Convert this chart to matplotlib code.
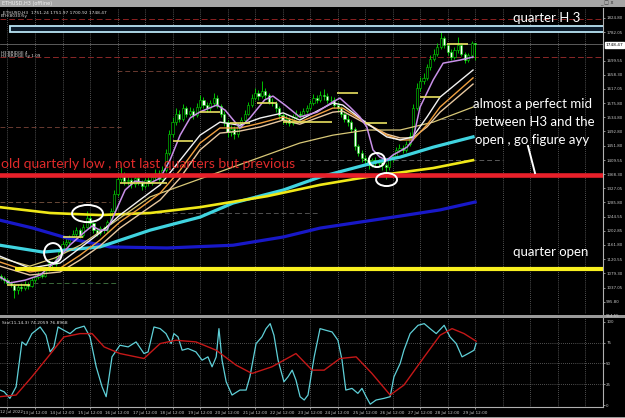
import matplotlib
matplotlib.use("Agg")
import matplotlib.pyplot as plt
from matplotlib.patches import Ellipse, Rectangle
from matplotlib.lines import Line2D
import numpy as np

# ETHUSD H3 bars, bar 0 = 12 Jul 06:00
first_open = 1072
closes = [1066, 1060, 1052, 1045, 1030, 1040, 1036, 1048,
          1042, 1060, 1068, 1075, 1072, 1090, 1110, 1105,
          1122, 1140, 1165, 1170, 1185, 1195, 1205, 1190,
          1215, 1240, 1225, 1205, 1198, 1210, 1205, 1228,
          1262, 1310, 1355, 1370, 1348, 1352, 1340, 1358,
          1345, 1335, 1350, 1342, 1360, 1372, 1355, 1380,
          1430, 1485, 1520, 1545, 1530, 1560, 1545, 1552,
          1540, 1565, 1585, 1570, 1560, 1575, 1590, 1568,
          1545, 1520, 1490, 1500, 1485, 1510, 1525, 1545,
          1570, 1590, 1605, 1595, 1612, 1598, 1580, 1575,
          1560, 1540, 1525, 1530, 1518, 1535, 1545, 1540,
          1552, 1560, 1575, 1590, 1585, 1600, 1595, 1585,
          1585, 1570, 1560, 1545, 1530, 1520, 1500, 1450,
          1430, 1415, 1410, 1395, 1410, 1400, 1405, 1395,
          1388, 1412, 1420, 1440, 1445, 1440, 1455, 1480,
          1560, 1620, 1640, 1650, 1680, 1705, 1720, 1740,
          1765, 1745, 1725, 1710, 1730, 1745, 1720, 1700,
          1715, 1751.24, 1748.47]
highs = [1078, 1070, 1064, 1058, 1050, 1048, 1050, 1056,
         1055, 1066, 1076, 1084, 1082, 1096, 1118, 1116,
         1130, 1148, 1172, 1182, 1192, 1204, 1214, 1210,
         1222, 1262, 1250, 1230, 1212, 1218, 1216, 1236,
         1270, 1322, 1372, 1390, 1376, 1362, 1358, 1366,
         1364, 1352, 1358, 1360, 1368, 1384, 1380, 1392,
         1442, 1496, 1534, 1562, 1556, 1572, 1568, 1564,
         1560, 1576, 1598, 1594, 1580, 1586, 1604, 1598,
         1574, 1552, 1526, 1512, 1508, 1518, 1534, 1556,
         1580, 1602, 1620, 1614, 1640, 1620, 1604, 1590,
         1582, 1566, 1548, 1540, 1536, 1544, 1554, 1552,
         1560, 1570, 1584, 1602, 1600, 1612, 1616, 1604,
         1596, 1592, 1578, 1566, 1552, 1540, 1526, 1506,
         1456, 1438, 1424, 1418, 1416, 1418, 1412, 1410,
         1400, 1418, 1428, 1448, 1456, 1452, 1464, 1490,
         1572, 1634, 1652, 1664, 1690, 1716, 1732, 1752,
         1785, 1770, 1752, 1734, 1740, 1768, 1750, 1726,
         1722, 1756, 1751.97]
lows = [1060, 1052, 1044, 1038, 1006, 1018, 1028, 1030,
        1034, 1038, 1054, 1062, 1064, 1068, 1086, 1096,
        1100, 1118, 1136, 1158, 1164, 1178, 1188, 1182,
        1186, 1210, 1218, 1196, 1188, 1192, 1196, 1200,
        1224, 1258, 1304, 1346, 1338, 1336, 1328, 1332,
        1336, 1322, 1328, 1334, 1338, 1354, 1348, 1350,
        1376, 1424, 1478, 1512, 1520, 1524, 1536, 1538,
        1530, 1534, 1558, 1562, 1550, 1552, 1568, 1560,
        1536, 1510, 1478, 1480, 1470, 1478, 1502, 1518,
        1540, 1564, 1584, 1586, 1590, 1588, 1572, 1566,
        1550, 1530, 1516, 1514, 1508, 1512, 1528, 1532,
        1534, 1546, 1554, 1570, 1576, 1580, 1586, 1576,
        1574, 1562, 1550, 1536, 1520, 1510, 1490, 1440,
        1420, 1404, 1398, 1384, 1388, 1392, 1390, 1380,
        1354, 1380, 1404, 1414, 1432, 1430, 1434, 1450,
        1476, 1554, 1612, 1630, 1644, 1672, 1698, 1712,
        1734, 1736, 1716, 1700, 1704, 1722, 1712, 1692,
        1694, 1708, 1700.92]

# moving averages (bar position, price)
ma_purple_x = [-0.2, 2.7, 7.1, 11.5, 15.8, 20.2, 24.5, 26.6, 28.9, 30.9, 32.7, 36.2, 39.1, 43.5, 46.4,
               49.3, 52.2, 55.1, 58.0, 62.9, 65.3, 69.6, 72.5, 76.8, 79.2, 82.7, 87.0, 92.0, 96.6,
               98.7, 101.6, 104.5, 106.5, 108.3, 110.3, 112.3, 114.1, 118.2, 119.9, 122.0, 125.8,
               128.7, 133.6, 137.4]
ma_purple_y = [1068, 1051, 1059, 1074, 1112, 1162, 1200, 1217, 1205, 1205, 1243, 1322, 1348, 1342, 1357,
               1410, 1482, 1532, 1550, 1570, 1555, 1503, 1532, 1585, 1596, 1570, 1535, 1549, 1579,
               1590, 1564, 1535, 1506, 1439, 1418, 1409, 1424, 1447, 1468, 1564, 1643,
               1692, 1701, 1710]
ma_slow_x = [-0.2, 8.5, 17.3, 23.1, 28.9, 34.7, 40.5, 46.4, 52.2, 58.0, 63.8, 69.6, 75.5, 82.2, 87.0,
             96.6, 99.5, 106.5, 112.3, 116.2, 119.9, 124.0, 127.8, 137.4]
ma_white_y = [1129, 1094, 1109, 1153, 1197, 1249, 1293, 1337, 1409, 1482, 1520, 1511, 1532, 1547, 1526,
              1576, 1570, 1517, 1477, 1468, 1477, 1535, 1593, 1672]
ma_orange_y = [1112, 1083, 1094, 1132, 1176, 1229, 1269, 1313, 1380, 1459, 1503, 1503, 1517, 1535, 1520,
               1561, 1561, 1517, 1482, 1468, 1468, 1512, 1564, 1649]
ma_peach_y = [1100, 1074, 1083, 1118, 1159, 1211, 1252, 1293, 1357, 1439, 1488, 1494, 1506, 1526, 1514,
              1549, 1552, 1514, 1485, 1474, 1474, 1506, 1549, 1631]
ma_tan_x = [-0.2, 8.5, 15.8, 23.1, 31.8, 43.5, 67.6, 87.0, 96.6, 106.5, 116.2, 125.8, 137.4]
ma_tan_y = [1124, 1100, 1124, 1161, 1220, 1302, 1389, 1459, 1482, 1497, 1497, 1520, 1564]
ma_cyan_x = [-0.2, 12.3, 28.9, 43.5, 58.0, 67.6, 82.2, 92.9, 109.4, 116.2, 125.8, 137.4]
ma_cyan_y = [1161, 1141, 1156, 1205, 1243, 1284, 1322, 1360, 1404, 1418, 1447, 1477]
ma_yellow_x = [-0.2, 14.4, 28.9, 43.5, 58.0, 77.5, 92.9, 106.5, 125.8, 137.4]
ma_yellow_y = [1272, 1255, 1249, 1255, 1272, 1304, 1337, 1360, 1386, 1409]
ma_blue_x = [-0.2, 9.4, 19.3, 31.8, 48.4, 67.6, 82.2, 92.9, 116.2, 127.8, 138.0]
ma_blue_y = [1234, 1211, 1182, 1156, 1153, 1161, 1185, 1211, 1246, 1264, 1287]

# short yellow marks (start bar, end bar, price)
seg_start = [1.9, 18.1, 34.7, 50.1, 58.0, 66.7, 74.6, 82.2, 87.0, 97.9, 106.0, 122.0, 129.9]
seg_end = [8.5, 24.0, 48.4, 56.0, 63.8, 72.5, 80.4, 87.0, 96.4, 104.0, 112.4, 127.8, 136.0]
seg_price = [1045, 1185, 1342, 1465, 1550, 1517, 1576, 1520, 1520, 1605, 1517, 1593, 1748]

# drawn levels
level_h3 = 1791
level_old_low = 1366
level_q_open = 1093
bid = 1748.47

# stochastic (bar position, value)
sto_k_x = [-0.2, 1.0, 2.7, 4.5, 6.2, 7.4, 9.1, 11.5, 13.2, 14.4, 15.5, 16.7, 18.4, 20.2, 21.9, 24.3,
           26.0, 27.8, 29.5, 30.7, 32.4, 34.7, 37.1, 39.4, 41.7, 42.9, 44.6, 46.4, 48.1, 49.6, 50.4,
           51.6, 52.8, 54.5, 56.8, 58.6, 60.3, 61.5, 62.7, 63.5, 64.4, 65.6, 67.3, 69.6, 71.4, 72.5,
           74.3, 76.0, 77.2, 78.4, 79.5, 80.7, 82.4, 83.6, 84.8, 85.9, 87.1, 88.3, 89.4, 91.2, 92.9,
           94.6, 96.4, 98.1, 99.3, 100.4, 102.2, 103.9, 105.1, 106.3, 107.5, 109.2, 111.5, 113.3,
           114.4, 116.2, 117.3, 119.1, 121.4, 123.2, 124.9, 126.7, 129.0, 130.7, 132.5, 134.2, 136.0,
           137.7, 138.3]
sto_k_y = [18, 16, 8, 22, 76, 72, 86, 94, 84, 64, 70, 94, 90, 86, 92, 95,
           82, 46, 22, 10, 58, 72, 70, 76, 62, 64, 94, 92, 86, 74, 86,
           82, 66, 68, 64, 54, 58, 46, 58, 92, 54, 28, 12, 18, 18, 34,
           74, 82, 92, 98, 84, 54, 28, 34, 42, 30, 10, 6, 12, 58, 92,
           90, 88, 78, 54, 18, 20, 14, 20, 10, 1, 6, 8, 10,
           34, 50, 66, 86, 96, 98, 92, 86, 96, 82, 74, 58, 62,
           66, 74.2]
sto_d_x = [-0.2, 4.5, 9.1, 13.8, 18.4, 23.1, 26.6, 30.1, 34.7, 41.7, 46.4, 51.0, 56.8, 62.7, 68.5,
           73.1, 78.9, 85.9, 90.6, 94.1, 98.7, 103.4, 108.0, 113.3, 117.3, 123.2, 127.8, 131.3,
           134.8, 138.3]
sto_d_y = [10, 12, 34, 58, 82, 86, 86, 70, 62, 56, 74, 78, 76, 66, 48,
           38, 46, 62, 42, 42, 56, 58, 38, 12, 24, 58, 84, 92,
           86, 76.9]

price_labels = ["995.80", "1037.05", "1079.30", "1120.55", "1161.80", "1202.85", "1244.55", "1285.80",
                "1327.05", "1368.30", "1409.55", "1451.80", "1492.80", "1534.80", "1575.80", "1617.05",
                "1658.30", "1699.55", "1782.05", "1824.80"]
date_labels = ["12 Jul 2022", "13 Jul 12:00", "14 Jul 12:00", "15 Jul 12:00", "16 Jul 12:00",
               "17 Jul 12:00", "18 Jul 12:00", "19 Jul 12:00", "20 Jul 12:00", "21 Jul 12:00",
               "22 Jul 12:00", "23 Jul 12:00", "24 Jul 12:00", "25 Jul 12:00", "26 Jul 12:00",
               "27 Jul 12:00", "28 Jul 12:00", "29 Jul 12:00"]

W, H = 625, 418
LBL = "#c8c8c8"
GRID = "#9a9a9a"


def fx(px):
    return px / W


def fy(py):
    return 1 - py / H


def box(x0, y0, x1, y1):
    return [fx(x0), fy(y1), (x1 - x0) / W, (y1 - y0) / H]


fig = plt.figure(figsize=(6.25, 4.18), dpi=100, facecolor="black")
ax = fig.add_axes(box(0, 8, 603, 314))
ax2 = fig.add_axes(box(0, 318, 603, 407), sharex=ax)
for a in (ax, ax2):
    a.set_facecolor("black")
    for s in a.spines.values():
        s.set_visible(False)
    a.spines["right"].set_visible(True)
    a.spines["right"].set_color("#b0b0b0")
    a.spines["right"].set_linewidth(0.8)

ax.set_xlim(-0.18, 175.2)
ax.set_ylim(960.4, 1852.9)
ax2.set_ylim(-2.4, 104.8)

# vertical dotted grid
for j in range(22):
    for a in (ax, ax2):
        a.axvline(2 + 8 * j, color=GRID, lw=0.5, ls=(0, (1, 2)), zorder=0)
for v in (25, 50, 75):
    ax2.axhline(v, color=GRID, lw=0.5, ls=(0, (1, 2)), zorder=0)

# faint level lines
ax.axhline(1821, color="#8c2020", lw=0.7, ls=(0, (6, 3)), zorder=1)
ax.axhline(1710, color="#8c2828", lw=0.7, ls=(0, (6, 3)), zorder=1)
ax.axhline(bid, color="#6a6a6a", lw=0.6, zorder=1)
ax.hlines(1668, 33.9, 98, color="#6a3a30", lw=0.7, ls=(0, (5, 3)), zorder=1)
ax.hlines(1506, -0.2, 35, color="#6a3a30", lw=0.7, ls=(0, (5, 3)), zorder=1)
ax.hlines(1287, -0.2, 31.8, color="#6a4a38", lw=0.7, ls=(0, (5, 3)), zorder=1)
ax.hlines(1255, 31.8, 92.9, color="#505050", lw=0.7, ls=(0, (5, 3)), zorder=1)
ax.hlines(1051, 9.4, 33.9, color="#3a6a3a", lw=0.7, ls=(0, (5, 3)), zorder=1)
ax.hlines(1409, 87, 146, color="#5a5a5a", lw=0.7, ls=(0, (5, 3)), zorder=1)
ax.hlines(1529, 128, 146, color="#5a5a5a", lw=0.7, ls=(0, (5, 3)), zorder=1)

# candles
c = np.array(closes, dtype=float)
o = np.concatenate([[first_open], c[:-1]])
xb = np.arange(len(c))
up = c >= o
ax.vlines(xb, lows, highs, color="#00e000", lw=0.6, zorder=2)
ax.bar(xb, c - o, bottom=o, width=0.62, color=np.where(up, "black", "white"),
       edgecolor="#00e000", linewidth=0.4, zorder=3)

# moving averages
ax.plot(ma_blue_x, ma_blue_y, color="#1818c8", lw=2.3, zorder=4)
ax.plot(ma_cyan_x, ma_cyan_y, color="#40d4e0", lw=2.3, zorder=4)
ax.plot(ma_yellow_x, ma_yellow_y, color="#f0e818", lw=1.9, zorder=4)
ax.plot(ma_tan_x, ma_tan_y, color="#d8c878", lw=0.9, zorder=4)
ax.plot(ma_slow_x, ma_peach_y, color="#e8c8a0", lw=1.0, zorder=4)
ax.plot(ma_slow_x, ma_orange_y, color="#f0a040", lw=1.0, zorder=4)
ax.plot(ma_slow_x, ma_white_y, color="#f2f2f2", lw=1.0, zorder=4)
ax.plot(ma_purple_x, ma_purple_y, color="#c890e8", lw=1.1, zorder=5)
ax.hlines(seg_price, seg_start, seg_end, color="#e8e060", lw=1.2, zorder=5)

# drawn objects
ax.add_patch(Rectangle((2.8, level_h3 - 8.5), 175, 17, facecolor="#0c1c2c",
                       edgecolor="#b8e4f4", lw=1.3, zorder=6))
ax.axhline(level_old_low, color="#e8202a", lw=3.3, zorder=6)
ax.hlines(level_q_open, 4.2, 176, color="#f8f020", lw=3.0, zorder=6)

for (ex, ey, ew, eh) in [(15.24, 1138.2, 5.2, 58), (25.27, 1253.4, 9.0, 50),
                         (109.45, 1409.5, 4.7, 41), (112.25, 1352.6, 6.1, 38)]:
    ax.add_patch(Ellipse((ex, ey), ew, eh, fill=False, edgecolor="white", lw=1.4, zorder=7))

# stochastic
ax2.plot(sto_k_x, sto_k_y, color="#5fd0d8", lw=0.9)
ax2.plot(sto_d_x, sto_d_y, color="#c41818", lw=1.0)

# axes ticks
ax.tick_params(axis="x", bottom=False, labelbottom=False)
ax.yaxis.tick_right()
ax.set_yticks([float(v) for v in price_labels])
ax.set_yticklabels(price_labels)
ax.tick_params(axis="y", labelsize=2.9, colors=LBL, length=1.5, pad=0.8, width=0.5)
ax2.yaxis.tick_right()
ax2.set_yticks([0, 25, 50, 75, 100])
ax2.set_yticklabels(["0", "25", "50", "75", "100"])
ax2.tick_params(axis="y", labelsize=2.9, colors=LBL, length=1.5, pad=0.8, width=0.5)
ax2.set_xticks([2 + 8 * i for i in range(len(date_labels))])
ax2.set_xticklabels([""] + date_labels[1:])
ax2.tick_params(axis="x", labelsize=3.0, colors=LBL, length=1.5, pad=1.2, width=0.5)
fig.text(fx(0.5), fy(412), date_labels[0], fontsize=3.0, color=LBL, va="center", ha="left")

# bid box
fig.text(fx(605.5), fy(45), "1748.47", fontsize=3.1, color="black", va="center", ha="left",
         bbox=dict(boxstyle="square,pad=0.15", fc="white", ec="white"))
fig.text(fx(605.5), fy(316), "954.55", fontsize=2.9, color=LBL, va="center", ha="left")

# separators and window chrome
fig.add_artist(Rectangle((0, fy(317.5)), fx(625), 3 / H, transform=fig.transFigure,
                         facecolor="#9a9a9a", edgecolor="none"))
fig.add_artist(Line2D([0, fx(603)], [fy(407), fy(407)], transform=fig.transFigure, color="#b0b0b0", lw=0.8))
fig.add_artist(Rectangle((0, fy(7)), 1, 7 / H, transform=fig.transFigure,
                         facecolor="#a6a6a6", edgecolor="none"))
fig.add_artist(Rectangle((0, 0), 1, 1.5 / H, transform=fig.transFigure,
                         facecolor="#9a9a9a", edgecolor="none"))
fig.text(fx(2), fy(3.5), "ETHUSD,H3 (offline)", fontsize=3.6, color="#f0f0f0", va="center")
fig.text(fx(600), fy(3.5), "_ \u25a1 x", fontsize=3.6, color="#303030", va="center")
fig.text(fx(3), fy(12.5), "ETHUSD,H3  1751.24 1751.97 1700.92 1748.47", fontsize=3.2, color="#e0e0e0", va="center")
fig.text(fx(1), fy(16.5), "ETH(8030)5y", fontsize=3.0, color="#e0e0e0", va="center")
fig.text(fx(1), fy(52.5), "H3 BRIDGE 4", fontsize=3.0, color="#e0e0e0", va="center")
fig.text(fx(1), fy(56.5), "H3 BRIDGE 5y 1.09", fontsize=3.0, color="#e0e0e0", va="center")
fig.text(fx(2), fy(323), "Sto(11,14,3) 74.2059 76.8968", fontsize=3.2, color="#e0e0e0", va="center")

# annotations
fnt = "Lato"
fig.text(fx(513), fy(18), "quarter H 3", fontsize=9.5, color="white", va="center", family=fnt)
fig.text(fx(473), fy(104), "almost a perfect mid", fontsize=9.5, color="white", va="center", family=fnt)
fig.text(fx(475), fy(122), "between H3 and the", fontsize=9.5, color="white", va="center", family=fnt)
fig.text(fx(475), fy(140), "open , go figure ayy", fontsize=9.5, color="white", va="center", family=fnt)
fig.text(fx(1), fy(164), "old quarterly low , not last quarters but previous", fontsize=10,
         color="#e02a2a", va="center", family=fnt)
fig.text(fx(513), fy(252), "quarter open", fontsize=9.5, color="white", va="center", family=fnt)
fig.add_artist(Line2D([fx(528), fx(535)], [fy(146), fy(173)], transform=fig.transFigure,
                      color="white", lw=1.4))

fig.savefig("out.png", dpi=100, facecolor="black")
